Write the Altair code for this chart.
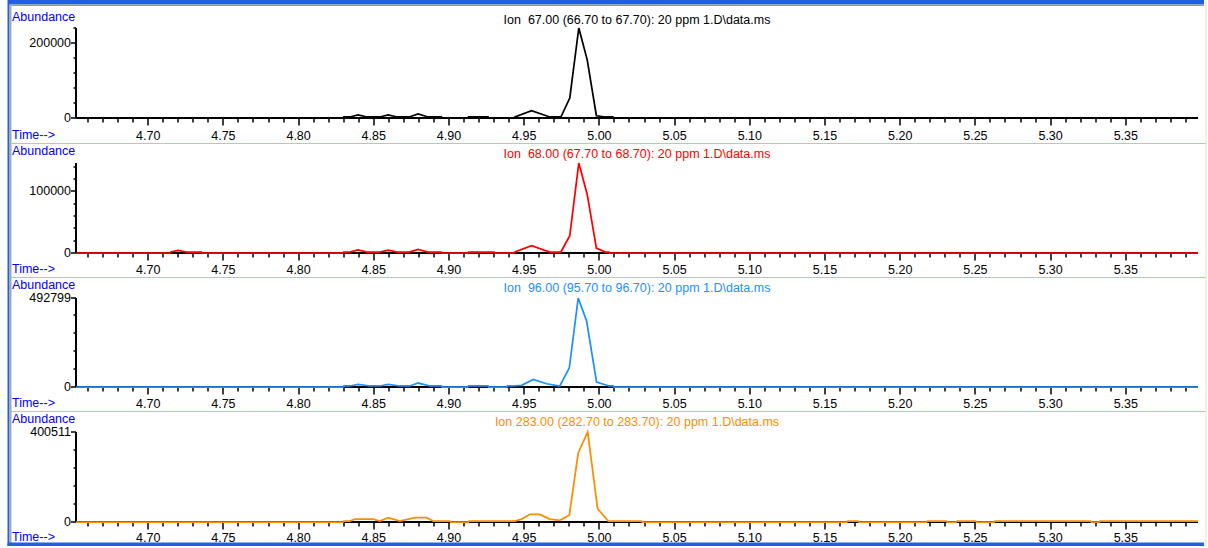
import altair as alt
import pandas as pd

# Retention-time window shown on every panel (min)
t_start, t_end = 4.652, 5.398

# Ion 67.00 extracted-ion trace: time (min) and abundance
t_67 = [4.652, 4.8295, 4.8300, 4.8340, 4.8396, 4.8455, 4.8540, 4.8596, 4.8655, 4.8735,
        4.8795, 4.8860, 4.8950, 4.8955, 4.9125, 4.9130, 4.9260, 4.9265, 4.9433, 4.9438,
        4.9549, 4.9670, 4.9744, 4.9803, 4.9863, 4.9919, 4.9980, 5.0040, 5.0090, 5.0095, 5.398]
a_67 = [0, 0, 2670, 2670, 8000, 2670, 2670, 8000, 2670, 2670,
        10700, 2670, 2670, 0, 0, 2670, 2670, 0, 0, 2670,
        19500, 2670, 2670, 53000, 240000, 155000, 6000, 2670, 2670, 0, 0]

# Ion 68.00
t_68 = [4.652, 4.7145, 4.7150, 4.7200, 4.7255, 4.7355, 4.7360, 4.8295, 4.8300, 4.8340,
        4.8396, 4.8455, 4.8540, 4.8596, 4.8655, 4.8735, 4.8795, 4.8860, 4.8950, 4.8955,
        4.9125, 4.9130, 4.9300, 4.9305, 4.9433, 4.9438, 4.9549, 4.9670, 4.9744, 4.9803,
        4.9863, 4.9919, 4.9980, 5.0040, 5.0065, 5.0070, 5.398]
a_68 = [0, 0, 1620, 4400, 1620, 1620, 0, 0, 1620, 1620,
        5000, 1620, 1620, 4800, 1620, 1620, 6000, 1620, 1620, 0,
        0, 1620, 1620, 0, 0, 1620, 12000, 1620, 1620, 28000,
        146000, 95000, 8000, 1620, 1620, 0, 0]

# Ion 96.00
t_96 = [4.652, 4.8295, 4.8300, 4.8340, 4.8396, 4.8474, 4.8540, 4.8596, 4.8673, 4.8740,
        4.8795, 4.8873, 4.8950, 4.8955, 4.9125, 4.9130, 4.9260, 4.9265, 4.9383, 4.9388,
        4.9416, 4.9483, 4.9560, 4.9649, 4.9737, 4.9800, 4.9859, 4.9915, 4.9981, 5.0065,
        5.0092, 5.0097, 5.398]
a_96 = [0, 0, 5540, 5540, 15000, 5540, 5540, 15000, 5540, 5540,
        22000, 5540, 5540, 0, 0, 5540, 5540, 0, 0, 5540,
        5540, 9000, 42000, 18000, 5540, 106000, 492799, 365000, 27000, 5540,
        5540, 0, 0]

# Ion 283.00
t_283 = [4.652, 4.8295, 4.8300, 4.8340, 4.8374, 4.8496, 4.8540, 4.8596, 4.8673, 4.8773,
         4.8851, 4.8895, 4.9006, 4.9011, 4.9128, 4.9133, 4.9438, 4.9483, 4.9538, 4.9604,
         4.9670, 4.9737, 4.9800, 4.9859, 4.9922, 4.9988, 5.0059, 5.0280, 5.0285, 5.1645,
         5.1650, 5.1720, 5.1725, 5.2175, 5.2180, 5.2308, 5.2313, 5.2372, 5.2377, 5.2503,
         5.2508, 5.2625, 5.2630, 5.3266, 5.3271, 5.3323, 5.3328, 5.398]
a_283 = [0, 0, 4450, 4450, 13000, 13000, 4450, 19000, 4450, 19000,
         19000, 4450, 4450, 0, 0, 4450, 4450, 13000, 34000, 34000,
         13000, 7500, 30000, 307000, 400511, 59000, 4450, 4450, 0, 0,
         4450, 4450, 0, 0, 4450, 4450, 0, 0, 4450, 4450,
         0, 0, 4450, 4450, 0, 0, 4450, 4450]

# Axis ticks: minor every 0.01 min, labelled every 0.05 min
x_ticks = [round(4.66 + 0.01 * i, 2) for i in range(74)]

y_ticks_67 = [0, 40000, 80000, 120000, 160000, 200000, 240000]
y_labels_67 = [0, 200000]
y_ticks_68 = [0, 20000, 40000, 60000, 80000, 100000, 120000, 140000]
y_labels_68 = [0, 100000]
y_ticks_96 = [0, 100000, 200000, 300000, 400000, 492799]
y_labels_96 = [0, 492799]
y_ticks_283 = [0, 80000, 160000, 240000, 320000, 400511]
y_labels_283 = [0, 400511]

# "\u00a0" keeps the double gap after "Ion" from collapsing in SVG text
titles = [
    "Ion \u00a067.00 (66.70 to 67.70): 20 ppm 1.D\\data.ms",
    "Ion \u00a068.00 (67.70 to 68.70): 20 ppm 1.D\\data.ms",
    "Ion \u00a096.00 (95.70 to 96.70): 20 ppm 1.D\\data.ms",
    "Ion 283.00 (282.70 to 283.70): 20 ppm 1.D\\data.ms",
]
colors = ["#000000", "#FF0000", "#1E90FF", "#FF8C00"]

FONT = "Liberation Sans"
LABEL_BLUE = "#0000FF"
FRAME_BLUE = "#2060E8"
PLOT_W = 1122
one = pd.DataFrame({"k": [0]})

MAJOR_X = "abs(round(datum.value * 100)) % 5 == 0"


def box(x, x2, y, y2, color, opacity=1.0):
    return alt.Chart(one).mark_rect(color=color, opacity=opacity).encode(
        x=alt.value(x), x2=alt.value(x2), y=alt.value(y), y2=alt.value(y2)
    )


def label(text, x, y, color, align="left"):
    return alt.Chart(one).mark_text(
        text=text, font=FONT, fontSize=12.5, color=color, align=align, baseline="alphabetic"
    ).encode(x=alt.value(x), y=alt.value(y))


def panel(times, values, color, title, ymax, yticks, ylabels, height, lab_pad,
          title_y, abund_y, time_y, green_y=None, extra=None):
    df = pd.DataFrame({"t": times, "a": values})
    lab_list = "[" + ",".join(str(v) for v in ylabels) + "]"
    # axes are drawn without the half-pixel shift: their 2px lines sit on whole pixels
    x_axis = alt.Axis(
        values=x_ticks,
        labelExpr=f"{MAJOR_X} ? format(datum.value, '.2f') : ''",
        tickSize={"condition": {"test": MAJOR_X, "value": 7.5}, "value": 4.5},
        labelPadding=lab_pad, labelAngle=0, title=None, grid=False, translate=0,
    )
    y_axis = alt.Axis(
        values=yticks, format="d",
        labelExpr=f"indexof({lab_list}, datum.value) >= 0 ? datum.label : ''",
        tickSize={"condition": {"test": f"indexof({lab_list}, datum.value) >= 0", "value": 5},
                  "value": 2.5},
        labelPadding=0, title=None, grid=False, translate=0,
    )
    trace = alt.Chart(df).mark_line(color=color, strokeWidth=1.75).encode(
        x=alt.X("t:Q", scale=alt.Scale(domain=[t_start, t_end], nice=False, zero=False), axis=x_axis),
        y=alt.Y("a:Q", scale=alt.Scale(domain=[0, ymax], nice=False), axis=y_axis),
    )
    layers = list(extra or [])
    layers += [
        trace,
        label(title, 561, title_y, color, align="center"),
        label("Abundance", -64, abund_y, LABEL_BLUE),
        label("Time-->", -64, time_y, LABEL_BLUE),
    ]
    if green_y is not None:
        layers.append(box(-65, 1130, green_y, green_y + 1, "#80EE80"))
    return alt.layer(*layers).properties(width=PLOT_W, height=height)


# Window frame around the traces (drawn relative to the first panel)
frame = [
    box(-76, 1132, -28, 520, "#FFFFFF", opacity=0),      # full page extent
    box(-68, 1128, -28, -23.5, FRAME_BLUE),              # top bar
    box(-66, 1128, -23.5, -22, "#9A9A9A"),               # top inset
    box(-68.5, -66.5, -28, 518, FRAME_BLUE),             # left bar
    box(-66.5, -64.5, -23, 515, "#A8A8A8"),              # left inset
    box(-68.5, 1128, 514.5, 518, FRAME_BLUE),            # bottom bar
    box(1129.5, 1130.5, -28, 518, "#E6E4D2"),            # right edge
]

p1 = panel(t_67, a_67, colors[0], titles[0], 240000, y_ticks_67, y_labels_67, 90, 4,
           -4, -7, 111, green_y=115, extra=frame)
p2 = panel(t_68, a_68, colors[1], titles[1], 146000, y_ticks_68, y_labels_68, 90, 3.5,
           -5, -8, 110, green_y=114)
p3 = panel(t_96, a_96, colors[2], titles[2], 492799, y_ticks_96, y_labels_96, 89, 3.3,
           -6, -9, 109, green_y=113)
p4 = panel(t_283, a_283, colors[3], titles[3], 400511, y_ticks_283, y_labels_283, 90, 2.5,
           -6, -9, 109)

chart = (
    alt.vconcat(p1, p2, p3, p4, spacing=45, bounds="flush")
    .properties(padding=0, background="white")
    .configure_view(strokeWidth=0)
    .configure_axis(
        labelFont=FONT, labelFontSize=12.5, labelColor="black",
        domainColor="black", tickColor="black", domainWidth=2, tickWidth=1.5,
        labelOverlap=False, labelFlush=False,
    )
)

chart.save("out.html", embed_options={"renderer": "svg", "actions": False})
